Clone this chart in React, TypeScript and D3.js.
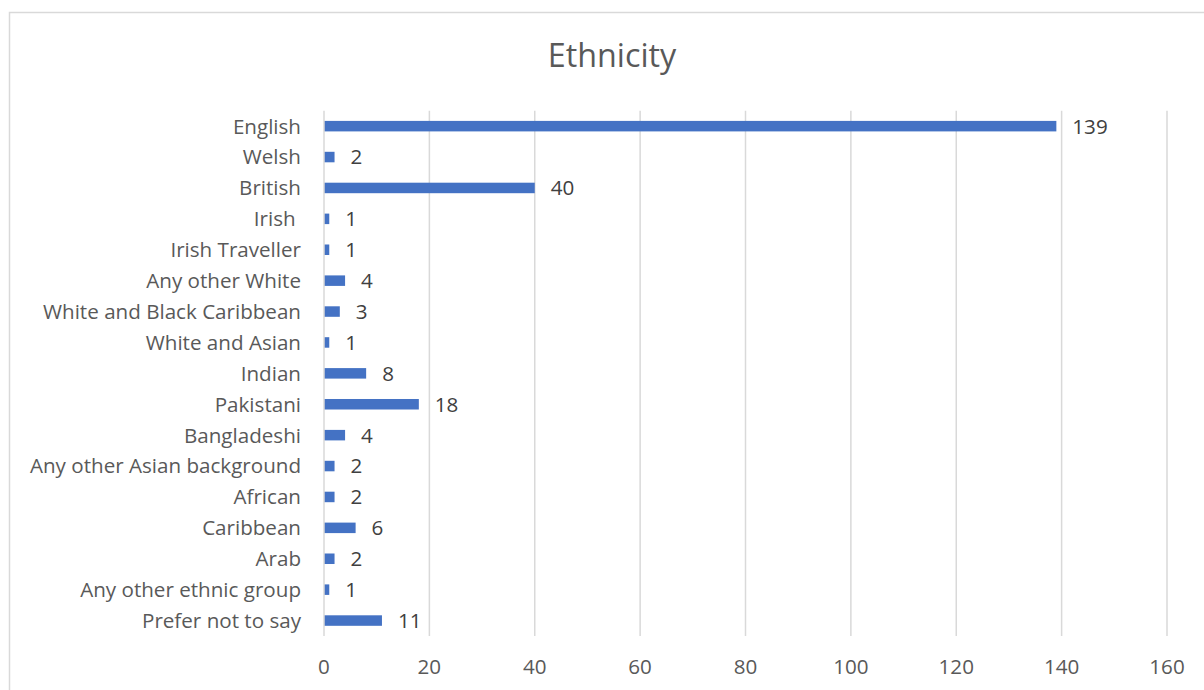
import { useEffect, useRef } from "react";
import * as d3 from "d3";

const categories = [
  "English",
  "Welsh",
  "British",
  "Irish ",
  "Irish Traveller",
  "Any other White",
  "White and Black Caribbean",
  "White and Asian",
  "Indian",
  "Pakistani",
  "Bangladeshi",
  "Any other Asian background",
  "African",
  "Caribbean",
  "Arab",
  "Any other ethnic group",
  "Prefer not to say",
];
const counts = [139, 2, 40, 1, 1, 4, 3, 1, 8, 18, 4, 2, 2, 6, 2, 1, 11];
const xTicks = [0, 20, 40, 60, 80, 100, 120, 140, 160];
const title = "Ethnicity";

export default function App() {
  const svgRef = useRef<SVGSVGElement>(null);

  useEffect(() => {
    if (!svgRef.current) return;
    const width = 1204;
    const height = 690;
    const margin = { top: 110.7, right: 37, bottom: 54, left: 324 };
    const font = "'Open Sans', sans-serif";
    const fs = 20.6;

    const svg = d3.select(svgRef.current);
    svg.selectAll("*").remove();
    svg.attr("width", width).attr("height", height);

    // chart frame
    svg
      .append("rect")
      .attr("x", 9.5)
      .attr("y", 12.5)
      .attr("width", width + 20)
      .attr("height", height + 20)
      .attr("fill", "white")
      .attr("stroke", "#d9d9d9")
      .attr("stroke-width", 1.5);

    svg
      .append("text")
      .attr("x", 612)
      .attr("y", 66.5)
      .attr("text-anchor", "middle")
      .attr("fill", "#595959")
      .attr("font-family", font)
      .attr("font-size", 32.3)
      .text(title);

    const data = categories.map((c, i) => ({ name: c, value: counts[i] }));

    const x = d3
      .scaleLinear()
      .domain([0, 160])
      .range([margin.left, width - margin.right]);

    const y = d3
      .scaleBand<string>()
      .domain(categories)
      .range([margin.top, height - margin.bottom])
      .paddingInner(0.66)
      .paddingOuter(0.33);

    const g = svg.append("g");

    // gridlines
    g.selectAll("line.grid")
      .data(xTicks.slice(1))
      .join("line")
      .attr("class", "grid")
      .attr("x1", (d) => x(d))
      .attr("x2", (d) => x(d))
      .attr("y1", margin.top)
      .attr("y2", height - margin.bottom)
      .attr("stroke", "#d9d9d9")
      .attr("stroke-width", 1.5);

    // bars
    g.selectAll("rect.bar")
      .data(data)
      .join("rect")
      .attr("class", "bar")
      .attr("x", x(0))
      .attr("y", (d) => y(d.name)!)
      .attr("width", (d) => x(d.value) - x(0))
      .attr("height", y.bandwidth())
      .attr("fill", "#4472c4");

    // axis line at zero
    g.append("line")
      .attr("x1", x(0))
      .attr("x2", x(0))
      .attr("y1", margin.top)
      .attr("y2", height - margin.bottom)
      .attr("stroke", "#d9d9d9")
      .attr("stroke-width", 1.5);

    // value labels
    g.selectAll("text.value")
      .data(data)
      .join("text")
      .attr("class", "value")
      .attr("x", (d) => x(d.value) + 16)
      .attr("y", (d) => y(d.name)! + y.bandwidth() / 2)
      .attr("dy", "0.36em")
      .attr("fill", "#404040")
      .attr("font-family", font)
      .attr("font-size", fs)
      .text((d) => d.value);

    // category labels
    g.selectAll("text.cat")
      .data(data)
      .join("text")
      .attr("class", "cat")
      .attr("x", 301)
      .attr("y", (d) => y(d.name)! + y.bandwidth() / 2)
      .attr("dy", "0.36em")
      .attr("text-anchor", "end")
      .attr("fill", "#595959")
      .attr("font-family", font)
      .attr("font-size", fs)
      .style("white-space", "pre")
      .text((d) => d.name);

    // x tick labels
    g.selectAll("text.tick")
      .data(xTicks)
      .join("text")
      .attr("class", "tick")
      .attr("x", (d) => x(d))
      .attr("y", 674)
      .attr("text-anchor", "middle")
      .attr("fill", "#595959")
      .attr("font-family", font)
      .attr("font-size", fs)
      .text((d) => d);
  }, []);

  return (
    <svg
      ref={svgRef}
      style={{ position: "absolute", left: 0, top: 0, display: "block" }}
    ></svg>
  );
}
